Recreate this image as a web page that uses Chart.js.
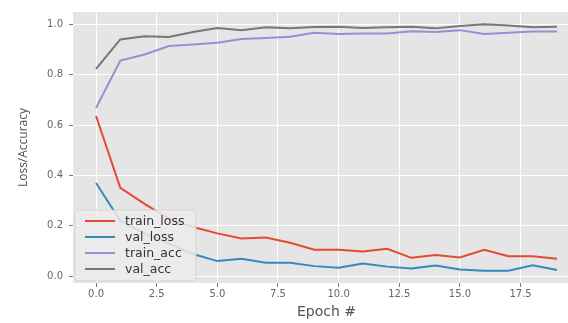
<!DOCTYPE html>
<html>
<head>
<meta charset="utf-8">
<script src="https://cdn.jsdelivr.net/npm/chart.js@4/dist/chart.umd.min.js"></script>
<style>
html,body{margin:0;padding:0;background:#fff;overflow:hidden;width:568px;height:323px;}
canvas{display:block;}
</style>
</head>
<body>
<canvas id="c" width="580" height="323"></canvas>
<script>
const epochs    = [0,1,2,3,4,5,6,7,8,9,10,11,12,13,14,15,16,17,18,19];
const trainLoss = [0.636,0.351,0.287,0.229,0.195,0.170,0.150,0.154,0.133,0.105,0.105,0.098,0.109,0.073,0.084,0.074,0.105,0.079,0.079,0.069];
const valLoss   = [0.370,0.220,0.170,0.130,0.088,0.060,0.069,0.053,0.053,0.040,0.034,0.050,0.038,0.031,0.042,0.027,0.022,0.022,0.043,0.025];
const trainAcc  = [0.668,0.856,0.880,0.914,0.920,0.927,0.942,0.946,0.951,0.967,0.962,0.964,0.964,0.973,0.970,0.977,0.962,0.967,0.972,0.972];
const valAcc    = [0.823,0.940,0.953,0.950,0.970,0.985,0.977,0.988,0.984,0.989,0.990,0.985,0.988,0.990,0.984,0.993,1.000,0.995,0.988,0.990];
const seriesNames = ['train_loss','val_loss','train_acc','val_acc'];
const xTicks = [0,2.5,5,7.5,10,12.5,15,17.5];
const yTicks = [0,0.2,0.4,0.6,0.8,1.0];

const colors = ['#E24A33','#348ABD','#988ED5','#777777'];
const allSeries = [trainLoss,valLoss,trainAcc,valAcc];

const datasets = allSeries.map((s,i)=>({
  label: seriesNames[i],
  data: epochs.map((e,j)=>({x:e,y:s[j]})),
  borderColor: colors[i],
  backgroundColor: colors[i],
  borderWidth: 2,
  pointRadius: 0,
  tension: 0,
  fill: false,
  order: 4-i
}));

const bgPlugin = {
  id:'bg',
  beforeDraw(chart){
    const {ctx, chartArea:a} = chart;
    ctx.save();
    ctx.fillStyle = '#E5E5E5';
    ctx.fillRect(a.left, a.top, a.right-a.left, a.bottom-a.top);
    ctx.restore();
  }
};

const legendPlugin = {
  id:'mplLegend',
  afterDatasetsDraw(chart){
    const {ctx, chartArea:a} = chart;
    const x0 = a.left + 2, y0 = 210, w = 121, h = 71;
    ctx.save();
    ctx.beginPath();
    if (ctx.roundRect) ctx.roundRect(x0, y0, w, h, 3); else ctx.rect(x0,y0,w,h);
    ctx.fillStyle = 'rgba(236,236,236,0.85)';
    ctx.fill();
    ctx.strokeStyle = 'rgba(210,210,210,0.9)';
    ctx.lineWidth = 1;
    ctx.stroke();
    ctx.font = '12.5px "DejaVu Sans"';
    ctx.textBaseline = 'middle';
    chart.data.datasets.forEach((d,i)=>{
      const y = 221 + i*16;
      ctx.strokeStyle = d.borderColor;
      ctx.lineWidth = 2;
      ctx.beginPath();
      ctx.moveTo(x0+10, y); ctx.lineTo(x0+40, y); ctx.stroke();
      ctx.fillStyle = '#333';
      ctx.fillText(d.label, x0+50, y+1);
    });
    ctx.restore();
  }
};

new Chart(document.getElementById('c'), {
  type:'line',
  data:{datasets},
  options:{
    responsive:false,
    animation:false,
    layout:{padding:{top:7,right:0,left:0,bottom:0}},
    plugins:{legend:{display:false}, tooltip:{enabled:false}},
    scales:{
      x:{
        type:'linear',
        min:-0.95, max:19.95,
        afterBuildTicks(s){ s.ticks = xTicks.map(v=>({value:v})); },
        afterFit(s){ s.height = 40; },
        ticks:{
          color:'#666', font:{family:'DejaVu Sans', size:10}, padding:1,
          maxRotation:0, autoSkip:false,
          callback:(v)=>Number(v).toFixed(1)
        },
        grid:{color:'#FFFFFF', lineWidth:1, tickColor:'#777', tickLength:4, drawTicks:true},
        border:{display:false},
        title:{display:true, text:'Epoch #', color:'#555', font:{family:'DejaVu Sans', size:14}, padding:{top:0,bottom:2}}
      },
      y:{
        min:-0.027, max:1.049,
        afterBuildTicks(s){ s.ticks = yTicks.map(v=>({value:v})); },
        afterFit(s){ s.width = 73; },
        ticks:{
          color:'#666', font:{family:'DejaVu Sans', size:10}, padding:6,
          callback:(v)=>Number(v).toFixed(1)
        },
        grid:{color:'#FFFFFF', lineWidth:1, tickColor:'#777', tickLength:4, drawTicks:true},
        border:{display:false},
        title:{display:true, text:'Loss/Accuracy', color:'#555', font:{family:'Open Sans', size:12}, padding:{top:16,bottom:0}}
      }
    }
  },
  plugins:[bgPlugin, legendPlugin]
});
</script>
</body>
</html>
